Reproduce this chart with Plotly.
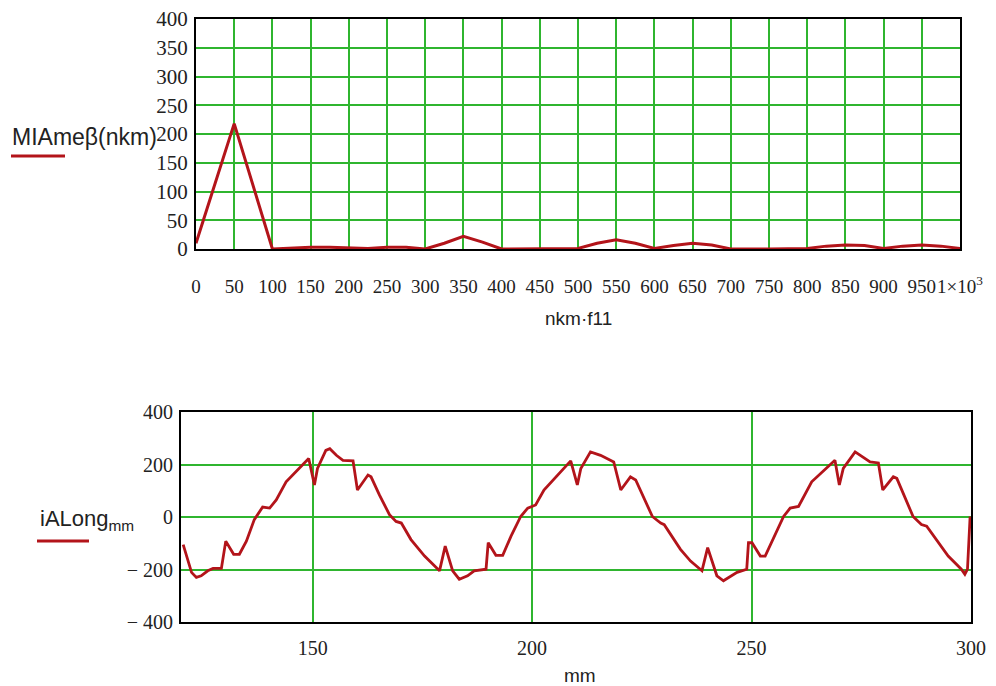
import plotly.graph_objects as go

# ---- top chart data: harmonic spectrum ----
nkm_f11 = [0, 50, 100, 125, 150, 175, 200, 225, 250, 275, 300, 325, 350, 375, 400,
           450, 500, 525, 550, 575, 600, 625, 650, 675, 700, 750, 800, 825, 850,
           875, 900, 925, 950, 975, 1000]
MIAme = [10, 218, 0, 2, 3, 3, 2, 1, 3, 3, 0, 10, 22, 12, 0,
         0, 1, 10, 16, 10, 1, 6, 10, 7, 0, 0, 1, 5, 7,
         6, 1, 5, 7, 5, 1]
top_tickvals = list(range(0, 1001, 50))
top_ticktext = [str(v) for v in range(0, 1000, 50)] + ["1×10<sup>3</sup>"]

# ---- bottom chart data: current vs mm ----
mm = [120.5, 122.4, 123.5, 124.6, 126.1, 127.3, 129.2, 130.2, 131.1, 132.0, 133.3,
      134.9, 136.7, 138.6, 140.2, 141.7, 143.95, 146.2, 149.1, 150.4, 151.1, 153.0,
      153.9, 155.4, 156.9, 159.2, 160.2, 162.6, 163.3, 165.2, 167.5, 169.0, 170.2,
      172.4, 175.5, 178.9, 180.2, 181.9, 183.4, 185.3, 186.8, 189.5, 190.0, 191.75,
      193.3, 195.2, 197.4, 199.0, 200.8, 202.7, 206.5, 208.8, 210.3, 211.1, 213.3,
      215.6, 218.6, 220.2, 222.4, 223.6, 227.4, 229.3, 230.1, 233.8, 236.1, 238.7,
      240.0, 242.1, 243.6, 246.7, 248.9, 249.3, 250.1, 252.0, 253.1, 257.3, 258.8,
      260.7, 263.7, 269.0, 270.0, 270.9, 273.6, 277.0, 278.9, 279.9, 282.3, 283.1,
      286.8, 288.7, 289.9, 294.8, 297.8, 298.6, 299.2, 299.8]
iALong = [-105, -211, -230, -224, -205, -196, -196, -92, -117, -142, -142,
          -92, -10, 38, 34, 65, 134, 172, 223, 122, 185, 254,
          260, 235, 216, 214, 103, 160, 153, 84, 9, -17, -23,
          -86, -149, -205, -111, -205, -237, -224, -205, -199, -98, -146,
          -146, -73, 2, 34, 46, 103, 172, 214, 122, 185, 248,
          235, 210, 103, 153, 141, 2, -23, -29, -123, -168, -205,
          -117, -224, -243, -211, -199, -98, -98, -149, -149, 2, 34,
          40, 134, 216, 122, 185, 248, 210, 206, 103, 153, 147,
          2, -29, -35, -149, -199, -218, -199, 2]
bot_xvals = [150, 200, 250, 300]
bot_yvals = [-400, -200, 0, 200, 400]
bot_ytext = ["− 400", "− 200", "0", "200", "400"]

# page has an 8px body margin; size the figure to fit the 996x686 window
OFF = 8
W, H = 996 - OFF, 686 - OFF
def px(x): return (x - OFF) / W
def py(y): return 1 - (y - OFF) / H

RED = "#b3141a"
GRID = "#2fb52f"
serif = "Liberation Serif"
sans = "Liberation Sans"
TXT = "#222"

def axis(**kw):
    base = dict(showline=True, linecolor="black", linewidth=2, mirror=True,
                zeroline=False, ticks="", gridcolor=GRID, gridwidth=1.5,
                automargin=False, tickangle=0,
                tickfont=dict(family=serif, size=19, color=TXT))
    base.update(kw)
    return base

fig = go.Figure()
fig.add_trace(go.Scatter(x=nkm_f11, y=MIAme, mode="lines",
                         line=dict(color=RED, width=3), xaxis="x", yaxis="y",
                         showlegend=False, hoverinfo="skip"))
fig.add_trace(go.Scatter(x=mm, y=iALong, mode="lines",
                         line=dict(color=RED, width=2.8), xaxis="x2", yaxis="y2",
                         showlegend=False, hoverinfo="skip"))

fig.update_layout(
    width=W, height=H, margin=dict(l=0, r=0, t=0, b=0, pad=0),
    paper_bgcolor="white", plot_bgcolor="white", showlegend=False,
    xaxis=axis(domain=[px(196), px(960)], range=[0, 1000], anchor="y",
               tickmode="array", tickvals=top_tickvals, ticktext=top_ticktext,
               ticklabelstandoff=19, tickfont=dict(family=serif, size=19, color=TXT)),
    yaxis=axis(domain=[py(249), py(19)], range=[0, 400], anchor="x",
               tickmode="array", tickvals=list(range(0, 401, 50)),
               ticklabelstandoff=2, tickfont=dict(family=serif, size=21, color=TXT)),
    xaxis2=axis(domain=[px(181), px(971)], range=[120, 300], anchor="y2",
                tickmode="array", tickvals=bot_xvals,
                ticklabelstandoff=7, tickfont=dict(family=serif, size=20, color=TXT)),
    yaxis2=axis(domain=[py(622), py(412)], range=[-400, 400], anchor="x2",
                tickmode="array", tickvals=bot_yvals, ticktext=bot_ytext,
                ticklabelstandoff=2, tickfont=dict(family=serif, size=20, color=TXT)),
)

ann = [
    dict(text="MIAmeβ(nkm)", x=px(10), y=py(137), xanchor="left", yanchor="middle",
         font=dict(family=sans, size=23, color=TXT)),
    dict(text="nkm·f11", x=px(578), y=py(318), xanchor="center", yanchor="middle",
         font=dict(family=sans, size=19, color=TXT)),
    dict(text="iALong<sub>mm</sub>", x=px(38), y=py(520), xanchor="left", yanchor="middle",
         font=dict(family=sans, size=22, color=TXT)),
    dict(text="mm", x=px(580), y=py(675), xanchor="center", yanchor="middle",
         font=dict(family=sans, size=19, color=TXT)),
]
for a in ann:
    a.update(xref="paper", yref="paper", showarrow=False)
fig.update_layout(annotations=ann)

fig.update_layout(shapes=[
    dict(type="line", xref="paper", yref="paper", x0=px(11), x1=px(65), y0=py(156), y1=py(156),
         line=dict(color=RED, width=3)),
    dict(type="line", xref="paper", yref="paper", x0=px(37), x1=px(89), y0=py(541), y1=py(541),
         line=dict(color=RED, width=3)),
])

fig.write_html("out.html")
